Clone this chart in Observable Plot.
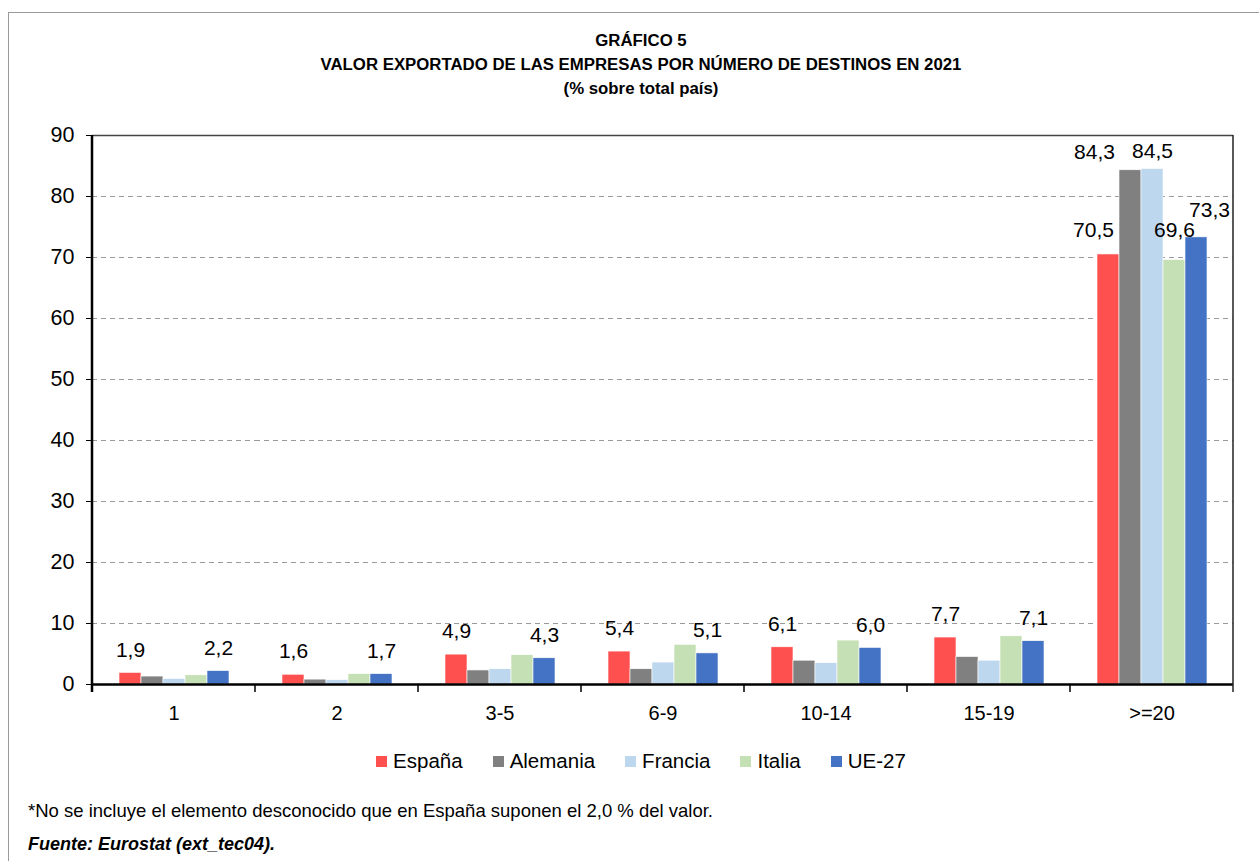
<!DOCTYPE html>
<html>
<head>
<meta charset="utf-8">
<script src="https://cdn.jsdelivr.net/npm/d3@7"></script>
<script src="https://cdn.jsdelivr.net/npm/@observablehq/plot@0.6"></script>
<style>
  body { margin: 0; background: #fff; font-family: "Liberation Sans", Arial, Helvetica, sans-serif; color: #000; }
  #frame { position: absolute; left: 8px; top: 12px; width: 1400px; height: 1000px; border-top: 1px solid #9a9a9a; border-left: 1px solid #9a9a9a; }
  #title { position: absolute; left: 0; top: 29px; width: 1282px; text-align: center; font-weight: bold; font-size: 16.8px; line-height: 24px; }
  #chart { position: absolute; left: 0; top: 110px; }
  #legend { position: absolute; left: 0; top: 749px; width: 1282px; display: flex; justify-content: center; align-items: center; font-size: 20.5px; line-height: 24px; }
  #legend .item { display: flex; align-items: center; margin: 0 15px; }
  #legend .sw { width: 11px; height: 11px; margin-right: 6px; }
  #note { position: absolute; left: 28px; top: 800px; font-size: 18.5px; line-height: 22px; }
  #source { position: absolute; left: 28px; top: 833px; font-size: 18px; line-height: 22px; font-weight: bold; font-style: italic; }
</style>
</head>
<body>
<div id="frame"></div>
<div id="title">GRÁFICO 5<br>VALOR EXPORTADO DE LAS EMPRESAS POR NÚMERO DE DESTINOS EN 2021<br>(% sobre total país)</div>
<div id="chart"></div>
<div id="legend"></div>
<div id="note">*No se incluye el elemento desconocido que en España suponen el 2,0 % del valor.</div>
<div id="source">Fuente: Eurostat (ext_tec04).</div>
<script>
// ---- data ----
const categories = ["1", "2", "3-5", "6-9", "10-14", "15-19", ">=20"];
const series = ["España", "Alemania", "Francia", "Italia", "UE-27"];
const espana   = [1.9, 1.6, 4.9, 5.4, 6.1, 7.7, 70.5];
const alemania = [1.3, 0.8, 2.3, 2.5, 3.9, 4.5, 84.3];
const francia  = [0.9, 0.7, 2.5, 3.6, 3.5, 3.9, 84.5];
const italia   = [1.5, 1.7, 4.8, 6.5, 7.2, 7.9, 69.6];
const ue27     = [2.2, 1.7, 4.3, 5.1, 6.0, 7.1, 73.3];
const yTicks = [0, 10, 20, 30, 40, 50, 60, 70, 80, 90];

// ---- styles ----
const colors = ["#FF5050", "#808080", "#BDD7EE", "#C5E0B4", "#4472C4"];
const lastLabelDx = [-15, -36, 0, 0, 13];
const lastLabelDy = [-24, -18, -18, -30, -27];
const font = '"Liberation Sans", Arial, Helvetica, sans-serif';

const valuesBySeries = [espana, alemania, francia, italia, ue27];
const rows = [];
series.forEach((s, j) => categories.forEach((c, i) => rows.push({cat: c, series: s, value: valuesBySeries[j][i]})));
const fmt = v => v.toFixed(1).replace(".", ",");
const lastCat = categories[categories.length - 1];

const smallLabels = rows.filter(d => d.cat !== lastCat && (d.series === "España" || d.series === "UE-27"));
const lastMarks = series.map((s, j) => Plot.text(rows.filter(d => d.cat === lastCat && d.series === s), {
  fx: "cat", x: "series", y: "value", text: d => fmt(d.value),
  dx: lastLabelDx[j], dy: lastLabelDy[j], fontSize: 21, fill: "#000"
}));

const plot = Plot.plot({
  width: 1259,
  height: 620,
  marginTop: 25,
  marginBottom: 46,
  marginLeft: 91,
  marginRight: 26,
  style: {fontFamily: font, background: "transparent", color: "#000"},
  fx: {domain: categories, padding: 0, label: null},
  x: {domain: series, paddingInner: 0, paddingOuter: 1.1, axis: null},
  y: {domain: [0, 90], label: null},
  color: {domain: series, range: colors},
  marks: [
    Plot.ruleY(yTicks.filter(v => v > 0 && v < 90), {stroke: "#9a9a9a", strokeWidth: 1, strokeDasharray: "5,4"}),
    Plot.barY(rows, {fx: "cat", x: "series", y: "value", fill: "series", stroke: "white", strokeWidth: 0.6}),
    Plot.ruleY([90], {stroke: "#444", strokeWidth: 1.5}),
    Plot.ruleY([0], {stroke: "#000", strokeWidth: 2.5}),
    Plot.text(smallLabels, {fx: "cat", x: "series", y: "value", text: d => fmt(d.value), dy: -23, fontSize: 21, fill: "#000"}),
    ...lastMarks,
    Plot.axisY(yTicks, {tickSize: 6, tickPadding: 12, fontSize: 21.5, label: null, stroke: "#000"}),
    Plot.axisFx({anchor: "bottom", tickSize: 0, tickPadding: 21, fontSize: 20, label: null})
  ]
});

// frame lines and group boundary ticks, placed through the plot's own scales
const fx = plot.scale("fx");
const y = plot.scale("y");
const svg = d3.select(plot);
const x0 = fx.apply(categories[0]);
const x1 = fx.apply(lastCat) + fx.bandwidth;
const y0 = y.apply(0), y90 = y.apply(90);
const g = svg.append("g");
g.append("line").attr("x1", x1).attr("x2", x1).attr("y1", y90).attr("y2", y0 + 8).attr("stroke", "#222").attr("stroke-width", 1.5);
g.append("line").attr("x1", x0).attr("x2", x0).attr("y1", y90).attr("y2", y0 + 8).attr("stroke", "#000").attr("stroke-width", 2.5);
categories.forEach(c => {
  const bx = fx.apply(c);
  g.append("line").attr("x1", bx).attr("x2", bx).attr("y1", y0).attr("y2", y0 + 8).attr("stroke", "#000").attr("stroke-width", 1.5);
});
document.getElementById("chart").appendChild(plot);

// legend
const legend = d3.select("#legend");
series.forEach((s, j) => {
  const it = legend.append("div").attr("class", "item");
  it.append("div").attr("class", "sw").style("background", colors[j]);
  it.append("span").text(s);
});
</script>
</body>
</html>
